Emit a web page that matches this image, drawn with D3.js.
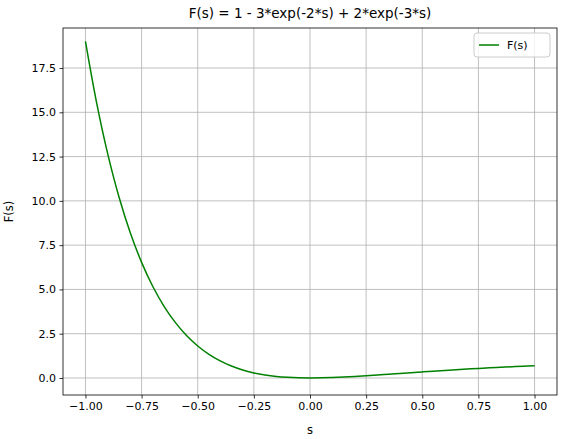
<!DOCTYPE html>
<html><head><meta charset="utf-8">
<script src="https://cdn.jsdelivr.net/npm/d3@7"></script>
<style>body{margin:0;background:#fff}svg{font-family:"DejaVu Sans",sans-serif}</style>
</head><body><svg id="c" width="563" height="439"></svg>
<script>
const sValues=[-1,-0.95,-0.9,-0.85,-0.8,-0.75,-0.7,-0.65,-0.6,-0.55,-0.5,-0.45,-0.4,-0.35,-0.3,-0.25,-0.2,-0.15,-0.1,-0.05,0,0.05,0.1,0.15,0.2,0.25,0.3,0.35,0.4,0.45,0.5,0.55,0.6,0.65,0.7,0.75,0.8,0.85,0.9,0.95,1];
const fValues=[19.004,15.518,12.610,10.192,8.187,6.530,5.167,4.049,3.139,2.401,1.809,1.336,0.964,0.674,0.453,0.288,0.169,0.087,0.036,0.008,0,0.007,0.025,0.053,0.087,0.125,0.167,0.210,0.254,0.299,0.343,0.386,0.427,0.467,0.505,0.541,0.576,0.608,0.639,0.667,0.694];
const xTicks=[-1,-0.75,-0.5,-0.25,0,0.25,0.5,0.75,1];
const yTicks=[0,2.5,5,7.5,10,12.5,15,17.5];
const L=63,R=557,T=28,B=395;
const svg=d3.select("#c");
const x=d3.scaleLinear().domain([-1.1,1.1]).range([L,R]);
const y=d3.scaleLinear().domain([-0.96,19.76]).range([B,T]);
const g=svg.append("g");
g.selectAll(".gx").data(xTicks).join("line").attr("x1",d=>x(d)).attr("x2",d=>x(d)).attr("y1",T).attr("y2",B).attr("stroke","#b0b0b0").attr("stroke-width",0.8);
g.selectAll(".gy").data(yTicks).join("line").attr("y1",d=>y(d)).attr("y2",d=>y(d)).attr("x1",L).attr("x2",R).attr("stroke","#b0b0b0").attr("stroke-width",0.8);
const line=d3.line().x((d,i)=>x(sValues[i])).y(d=>y(d)).curve(d3.curveCatmullRom);
g.append("path").datum(fValues).attr("d",line).attr("fill","none").attr("stroke","green").attr("stroke-width",1.5);
const xa=svg.append("g").attr("transform",`translate(0,${B})`).call(d3.axisBottom(x).tickValues(xTicks).tickFormat(d3.format(".2f")).tickSizeOuter(0).tickSize(3.5).tickPadding(3.5));
const ya=svg.append("g").attr("transform",`translate(${L},0)`).call(d3.axisLeft(y).tickValues(yTicks).tickFormat(d3.format(".1f")).tickSizeOuter(0).tickSize(3.5).tickPadding(3.5));
[xa,ya].forEach(a=>{a.select(".domain").remove();a.selectAll("text").attr("font-size",11).attr("fill","#000").attr("font-family","DejaVu Sans");a.selectAll("line").attr("stroke","#000").attr("stroke-width",0.8);});
svg.append("rect").attr("x",L).attr("y",T).attr("width",R-L).attr("height",B-T).attr("fill","none").attr("stroke","#000").attr("stroke-width",0.8);
svg.append("text").attr("x",(L+R)/2).attr("y",T-10).attr("text-anchor","middle").attr("font-size",13.5).text("F(s) = 1 - 3*exp(-2*s) + 2*exp(-3*s)");
svg.append("text").attr("x",(L+R)/2).attr("y",434).attr("text-anchor","middle").attr("font-size",11.5).text("s");
svg.append("text").attr("transform",`translate(13,${(T+B)/2}) rotate(-90)`).attr("text-anchor","middle").attr("font-size",11.5).text("F(s)");
const lg=svg.append("g");
lg.append("rect").attr("x",474).attr("y",33).attr("width",76).attr("height",24).attr("rx",3).attr("fill","#fff").attr("fill-opacity",0.8).attr("stroke","#ccc");
lg.append("line").attr("x1",479).attr("x2",499).attr("y1",45).attr("y2",45).attr("stroke","green").attr("stroke-width",1.5);
lg.append("text").attr("x",507).attr("y",49).attr("font-size",11).text("F(s)");
</script></body></html>
